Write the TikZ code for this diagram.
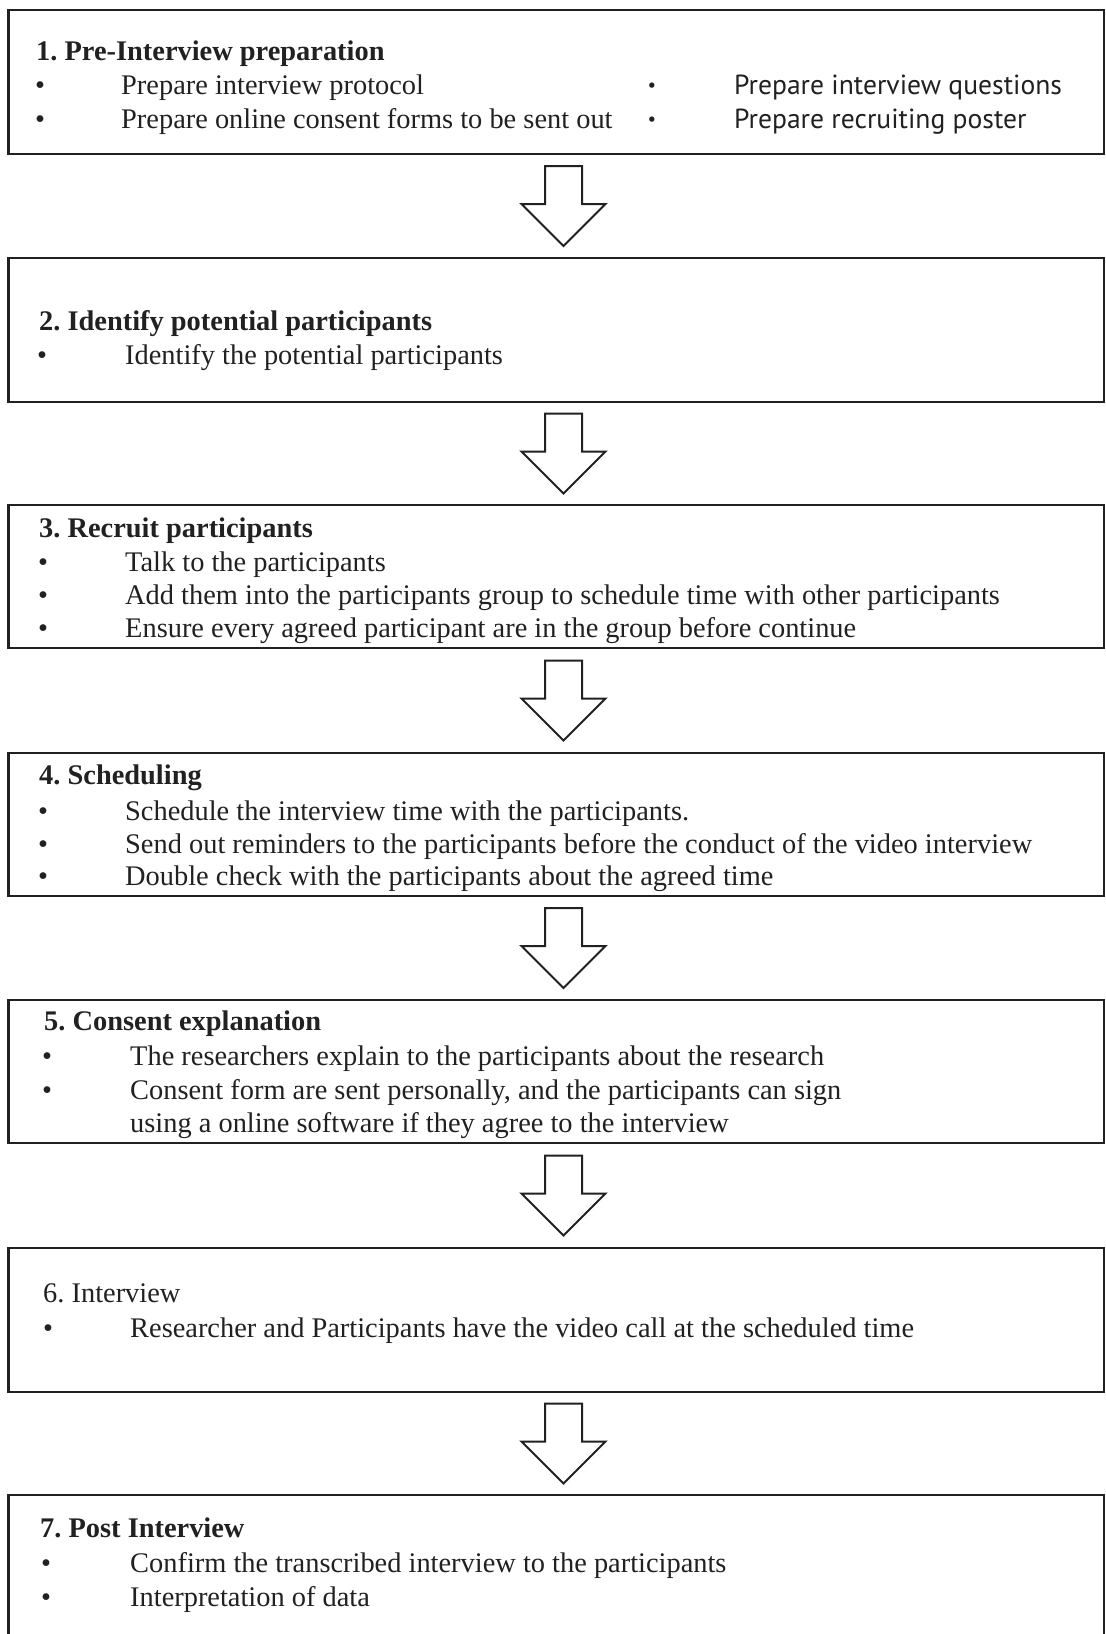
\documentclass[tikz,border=0pt]{standalone}
\usepackage{fontspec}
\setmainfont{Liberation Serif}
\newfontfamily\sansf{PT Sans}
\usetikzlibrary{calc}
\definecolor{ink}{gray}{0.13}
\frenchspacing
\begin{document}
\begin{tikzpicture}[x=1pt,y=-1pt,
  box/.style={draw=ink, line width=2.2pt, minimum width=1095.5pt, minimum height=#1,
    inner sep=0pt, outer sep=0pt, anchor=north west},
  txt/.style={font=\fontsize{28.4}{33}\selectfont, text=ink, inner sep=0pt, anchor=base west},
  ttl/.style={txt, font=\fontsize{28.4}{33}\selectfont\bfseries},
  bul/.style={font=\fontsize{28.4}{33}\selectfont, text=ink, inner sep=0pt, anchor=base},
  stxt/.style={font=\fontsize{27.6}{32}\sansf, text=ink, inner sep=0pt, anchor=base west},
  sbul/.style={font=\fontsize{19}{24}\sansf, text=ink, inner sep=0pt, anchor=base},
  blockarr/.pic={\draw[ink, line width=2pt, line join=miter, fill=white]
    (-18.5,-40) -- (18.5,-40) -- (18.5,-2) -- (42,-2) -- (0,40) -- (-42,-2) -- (-18.5,-2) -- cycle;}
]
\useasboundingbox (0,0) rectangle (1106,1634);
\clip (0,0) rectangle (1106,1634);
\fill[white] (0,0) rectangle (1106,1634);

% boxes
\node[box=144pt] (b1) at (8.5,10) {};
\node[box=144pt] (b2) at (8.5,258) {};
\node[box=143pt] (b3) at (8.5,505) {};
\node[box=143pt] (b4) at (8.5,753) {};
\node[box=143pt] (b5) at (8.5,1000) {};
\node[box=144pt] (b6) at (8.5,1248) {};
\node[box=144pt] (b7) at (8.5,1495) {};

% arrows
\pic at ($(b1.south)!0.5!(b2.north)+(7.25,0)$) {blockarr};
\pic at ($(b2.south)!0.5!(b3.north)+(7.25,0)$) {blockarr};
\pic at ($(b3.south)!0.5!(b4.north)+(7.25,0)$) {blockarr};
\pic at ($(b4.south)!0.5!(b5.north)+(7.25,0)$) {blockarr};
\pic at ($(b5.south)!0.5!(b6.north)+(7.25,0)$) {blockarr};
\pic at ($(b6.south)!0.5!(b7.north)+(7.25,0)$) {blockarr};

% box 1
\node[ttl] (t1) at (36,60) {1. Pre-Interview preparation};
\node[bul] (p1a) at (40,94) {•};
\node[txt] (l1a) at (121,94) {Prepare interview protocol};
\node[bul] (p1b) at (40,128) {•};
\node[txt] (l1b) at (121,128) {Prepare online consent forms to be sent out};
\node[sbul] (p1c) at (652,91) {•};
\node[stxt] (l1c) at (734,94) {Prepare interview questions};
\node[sbul] (p1d) at (652,125) {•};
\node[stxt] (l1d) at (734,128) {Prepare recruiting poster};

% box 2
\node[ttl] (t2) at (39,330) {2. Identify potential participants};
\node[bul] (p2a) at (42,364) {•};
\node[txt] (l2a) at (125,364) {Identify the potential participants};

% box 3
\node[ttl] (t3) at (39,537) {3. Recruit participants};
\node[bul] (p3a) at (43,571) {•};
\node[txt] (l3a) at (125,571) {Talk to the participants};
\node[bul] (p3b) at (43,604) {•};
\node[txt] (l3b) at (125,604) {Add them into the participants group to schedule time with other participants};
\node[bul] (p3c) at (43,637) {•};
\node[txt] (l3c) at (125,637) {Ensure every agreed participant are in the group before continue};

% box 4
\node[ttl] (t4) at (39,784) {4. Scheduling};
\node[bul] (p4a) at (43,820) {•};
\node[txt] (l4a) at (125,820) {Schedule the interview time with the participants.};
\node[bul] (p4b) at (43,853) {•};
\node[txt] (l4b) at (125,853) {Send out reminders to the participants before the conduct of the video interview};
\node[bul] (p4c) at (43,885) {•};
\node[txt] (l4c) at (125,885) {Double check with the participants about the agreed time};

% box 5
\node[ttl] (t5) at (44,1030) {5. Consent explanation};
\node[bul] (p5a) at (47,1065) {•};
\node[txt] (l5a) at (130,1065) {The researchers explain to the participants about the research};
\node[bul] (p5b) at (47,1099) {•};
\node[txt] (l5b) at (130,1099) {Consent form are sent personally, and the participants can sign};
\node[txt] (l5c) at (130,1132) {using a online software if they agree to the interview};

% box 6
\node[txt] (t6) at (43,1302) {6. Interview};
\node[bul] (p6a) at (48,1337) {•};
\node[txt] (l6a) at (130,1337) {Researcher and Participants have the video call at the scheduled time};

% box 7
\node[ttl] (t7) at (40,1537) {7. Post Interview};
\node[bul] (p7a) at (46,1572) {•};
\node[txt] (l7a) at (130,1572) {Confirm the transcribed interview to the participants};
\node[bul] (p7b) at (46,1606) {•};
\node[txt] (l7b) at (130,1606) {Interpretation of data};
\end{tikzpicture}
\end{document}
